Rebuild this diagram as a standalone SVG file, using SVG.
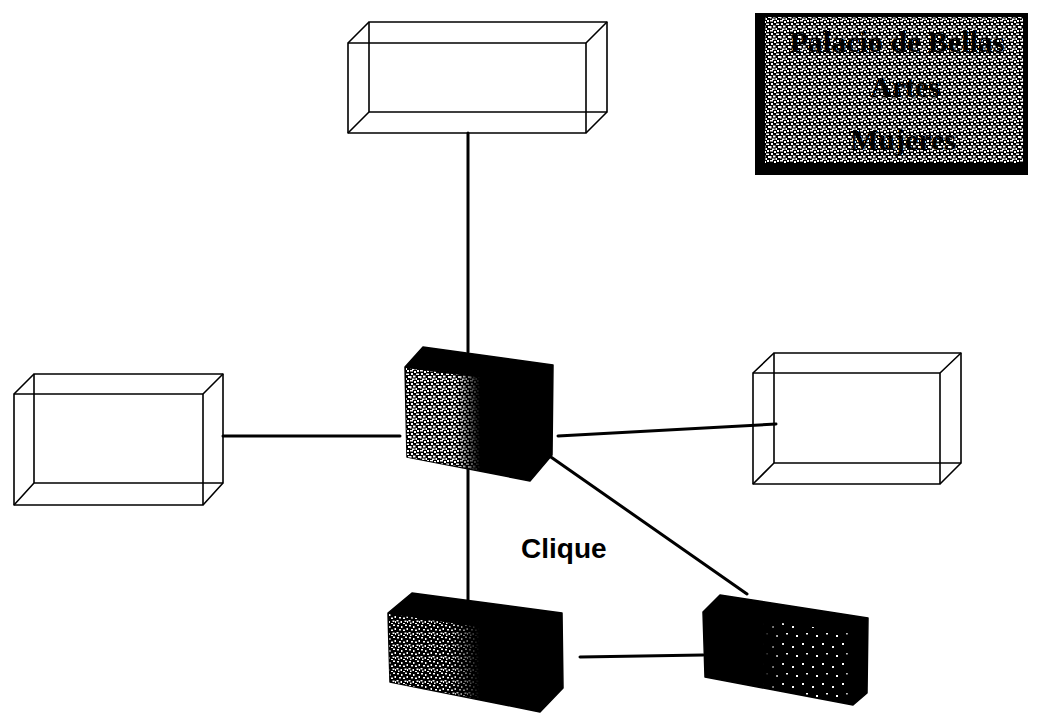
<svg xmlns="http://www.w3.org/2000/svg" width="1038" height="719" viewBox="0 0 1038 719">
<style>
.wire{fill:none;stroke:#000;stroke-width:1.6;stroke-linejoin:round}
.conn{stroke:#000;stroke-width:3;fill:none;stroke-linecap:round}
.dark{fill:#000;stroke:#000;stroke-width:1.5;stroke-linejoin:round}
.lbl{font-family:"Liberation Sans",Arial,sans-serif;font-weight:bold;font-size:28px;fill:#000}
.title{font-family:"Liberation Serif","Times New Roman",serif;font-weight:bold;fill:#000;text-anchor:middle;font-size:30px}
</style>
<defs>
<pattern id="speck" width="12" height="12" patternUnits="userSpaceOnUse">
<rect width="12" height="12" fill="#000"/>
<g fill="#fff">
<rect x="1" y="1" width="2" height="1.5"/><rect x="5" y="2" width="1.5" height="2"/><rect x="9" y="0.5" width="2" height="1.5"/>
<rect x="3" y="5" width="2" height="1.5"/><rect x="7" y="5.5" width="2" height="1.5"/><rect x="10.5" y="4" width="1.5" height="2"/>
<rect x="0.5" y="8" width="2" height="1.5"/><rect x="4.5" y="9" width="1.5" height="2"/><rect x="8.5" y="8.5" width="2" height="1.5"/>
<rect x="2" y="10.5" width="1.5" height="1.5"/><rect x="7" y="11" width="2" height="1"/><rect x="11" y="9" width="1" height="2"/>
</g>
</pattern>
<pattern id="light" width="10" height="10" patternUnits="userSpaceOnUse">
<rect width="10" height="10" fill="#000"/>
<g fill="#fff">
<rect x="0" y="0" width="3" height="1.5"/><rect x="4" y="1" width="2" height="2"/><rect x="7" y="0" width="2" height="2"/>
<rect x="1" y="3" width="2" height="2"/><rect x="6" y="3.5" width="3" height="1.5"/>
<rect x="0" y="6" width="1.5" height="2.5"/><rect x="3" y="5.5" width="2.5" height="2"/><rect x="8" y="6" width="2" height="2"/>
<rect x="2" y="8.5" width="2.5" height="1.5"/><rect x="5.5" y="8" width="1.5" height="2"/>
</g>
</pattern>
<pattern id="sparse" width="20" height="20" patternUnits="userSpaceOnUse">
<rect width="20" height="20" fill="#000"/>
<g fill="#fff">
<rect x="2" y="3" width="2" height="2"/><rect x="12" y="6" width="2" height="2"/><rect x="6" y="13" width="2" height="1.5"/><rect x="16" y="15" width="2" height="2"/>
</g>
</pattern>
<linearGradient id="fadeL" x1="0" y1="0" x2="1" y2="0">
<stop offset="0" stop-color="#fff"/><stop offset="0.4" stop-color="#fff"/><stop offset="0.6" stop-color="#000"/><stop offset="1" stop-color="#000"/>
</linearGradient>
<linearGradient id="fadeMid" x1="0" y1="0" x2="1" y2="0">
<stop offset="0" stop-color="#000"/><stop offset="0.4" stop-color="#000"/><stop offset="0.55" stop-color="#fff"/><stop offset="0.95" stop-color="#fff"/><stop offset="1" stop-color="#000"/>
</linearGradient>
<mask id="mC" maskContentUnits="objectBoundingBox"><rect width="1" height="1" fill="url(#fadeL)"/></mask>
<mask id="mR" maskContentUnits="objectBoundingBox"><rect width="1" height="1" fill="url(#fadeMid)"/></mask>
</defs>

<g id="connectors">
<line class="conn" x1="468" y1="133" x2="468" y2="352"/>
<line class="conn" x1="223" y1="436" x2="400" y2="436"/>
<line class="conn" x1="558" y1="436" x2="776" y2="424"/>
<line class="conn" x1="468" y1="457" x2="468" y2="600"/>
<line class="conn" x1="548" y1="455" x2="747" y2="594"/>
<line class="conn" x1="580" y1="657" x2="703" y2="655"/>
</g>

<g id="node-top">
<rect class="wire" x="369" y="22" width="238" height="90"/>
<rect class="wire" x="348" y="43" width="238" height="90"/>
<path class="wire" d="M348 43L369 22M586 43L607 22M586 133L607 112M348 133L369 112"/>
</g>

<g id="node-left">
<rect class="wire" x="34" y="374" width="189" height="109"/>
<rect class="wire" x="14" y="394" width="189" height="111"/>
<path class="wire" d="M14 394L34 374M203 394L223 374M203 505L223 483M14 505L34 483"/>
</g>

<g id="node-right">
<rect class="wire" x="774" y="353" width="187" height="110"/>
<rect class="wire" x="753" y="373" width="187" height="111"/>
<path class="wire" d="M753 373L774 353M940 373L961 353M940 484L961 463M753 484L774 463"/>
</g>

<g id="node-center">
<polygon class="dark" points="405,367 423,347 553,365 552,455 530,481 407,457"/>
<polygon points="406,368 530,384 530,480 407,457" fill="url(#light)" mask="url(#mC)"/>
</g>

<g id="node-bottom-left">
<polygon class="dark" points="388,613 412,593 562,613 563,688 540,712 390,682"/>
<polygon points="389,614 540,636 540,711 390,682" fill="url(#speck)" mask="url(#mC)"/>
</g>

<g id="node-bottom-right">
<polygon class="dark" points="703,612 720,595 868,618 867,693 853,705 705,677"/>
<polygon points="704,613 852,632 852,704 706,677" fill="url(#sparse)" mask="url(#mR)"/>
</g>

<g id="label-clique">
<text class="lbl" x="521" y="558">Clique</text>
</g>

<g id="node-title">
<rect x="755" y="13" width="273" height="162" fill="#000"/>
<rect x="765" y="17" width="258" height="146" fill="url(#light)"/>
<text class="title" x="897" y="52">Palacio de Bellas</text>
<text class="title" x="905" y="97">Artes</text>
<text class="title" x="903" y="150">Mujeres</text>
</g>
</svg>
